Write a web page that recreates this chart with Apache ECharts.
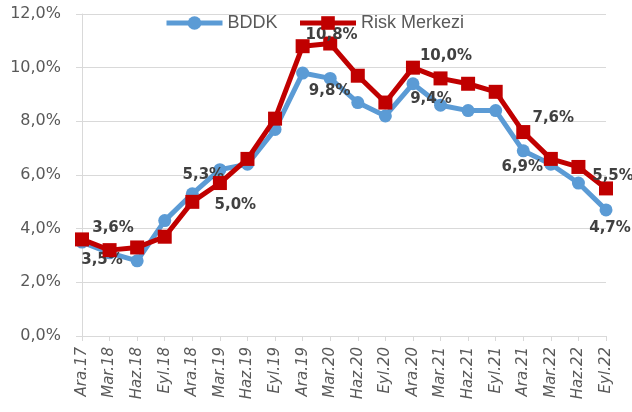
<!DOCTYPE html>
<html>
<head>
<meta charset="utf-8">
<script src="https://cdn.jsdelivr.net/npm/echarts@6/dist/echarts.min.js"></script>
<style>
    html, body { margin: 0; padding: 0; background: #fff; }
    #chart { width: 632px; height: 412px; }
</style>
</head>
<body>
<div id="chart"></div>
<script>
// kategoriler
var categories = ['Ara.17', 'Mar.18', 'Haz.18', 'Eyl.18', 'Ara.18', 'Mar.19', 'Haz.19', 'Eyl.19', 'Ara.19', 'Mar.20',
    'Haz.20', 'Eyl.20', 'Ara.20', 'Mar.21', 'Haz.21', 'Eyl.21', 'Ara.21', 'Mar.22', 'Haz.22', 'Eyl.22'];
var bddk = [3.5, 3.1, 2.8, 4.3, 5.3, 6.2, 6.4, 7.7, 9.8, 9.6, 8.7, 8.2, 9.4, 8.6, 8.4, 8.4, 6.9, 6.4, 5.7, 4.7];
var riskMerkezi = [3.6, 3.2, 3.3, 3.7, 5.0, 5.7, 6.6, 8.1, 10.8, 10.9, 9.7, 8.7, 10.0, 9.6, 9.4, 9.1, 7.6, 6.6, 6.3, 5.5];
var yTicks = [0, 2, 4, 6, 8, 10, 12];

// etiketli noktalar ve konumlari (index -> [dx, dy])
var bddkLabelOffsets = {0: [20, 18], 4: [11, -19], 8: [27, 18], 12: [18, 15], 16: [-1, 16], 19: [4, 18]};
var riskLabelOffsets = {0: [31, -11], 4: [43, 3], 8: [29, -11], 12: [33, -12], 16: [30, -14], 19: [7, -12]};

function fmt(v) {
    return v.toFixed(1).replace('.', ',') + '%';
}

function buildData(values, offsets) {
    return values.map(function (v, i) {
        var item = {value: v};
        if (offsets[i]) {
            item.label = {show: true, position: 'inside', offset: offsets[i]};
        }
        return item;
    });
}

var labelStyle = {
    show: false,
    formatter: function (p) { return fmt(p.value); },
    fontFamily: 'DejaVu Sans',
    fontWeight: 'bold',
    fontSize: 15,
    color: '#404040'
};

var chart = echarts.init(document.getElementById('chart'));
var option = {
    animation: false,
    grid: {left: 82, right: 26, top: 14, bottom: 76},
    legend: {
        left: 159,
        top: 9,
        itemWidth: 56,
        itemHeight: 17,
        itemGap: 20,
        lineStyle: {width: 5},
        textStyle: {fontFamily: 'Liberation Sans', fontSize: 18, color: '#595959'},
        data: ['BDDK', 'Risk Merkezi']
    },
    xAxis: {
        type: 'category',
        data: categories,
        boundaryGap: false,
        axisLine: {lineStyle: {color: '#d9d9d9', width: 1}},
        axisTick: {show: true, length: 5, lineStyle: {color: '#d9d9d9'}},
        axisLabel: {
            rotate: 90,
            margin: 11,
            interval: 0,
            fontFamily: 'DejaVu Sans',
            fontStyle: 'italic',
            fontSize: 15,
            color: '#595959'
        }
    },
    yAxis: {
        type: 'value',
        min: yTicks[0],
        max: yTicks[yTicks.length - 1],
        interval: 2,
        axisLine: {show: true, lineStyle: {color: '#d9d9d9'}},
        axisTick: {show: true, length: 6, lineStyle: {color: '#d9d9d9'}},
        splitLine: {lineStyle: {color: '#d9d9d9', width: 1}},
        axisLabel: {
            margin: 21,
            fontFamily: 'DejaVu Sans',
            fontSize: 16,
            color: '#595959',
            formatter: function (v) { return fmt(v); }
        }
    },
    series: [
        {
            name: 'BDDK',
            type: 'line',
            data: buildData(bddk, bddkLabelOffsets),
            symbol: 'circle',
            symbolSize: 13,
            showAllSymbol: true,
            lineStyle: {color: '#5B9BD5', width: 5},
            itemStyle: {color: '#5B9BD5'},
            label: labelStyle,
            z: 2
        },
        {
            name: 'Risk Merkezi',
            type: 'line',
            data: buildData(riskMerkezi, riskLabelOffsets),
            symbol: 'rect',
            symbolSize: 14,
            showAllSymbol: true,
            lineStyle: {color: '#C00000', width: 5},
            itemStyle: {color: '#C00000'},
            label: labelStyle,
            z: 3
        }
    ]
};
chart.setOption(option);
</script>
</body>
</html>
